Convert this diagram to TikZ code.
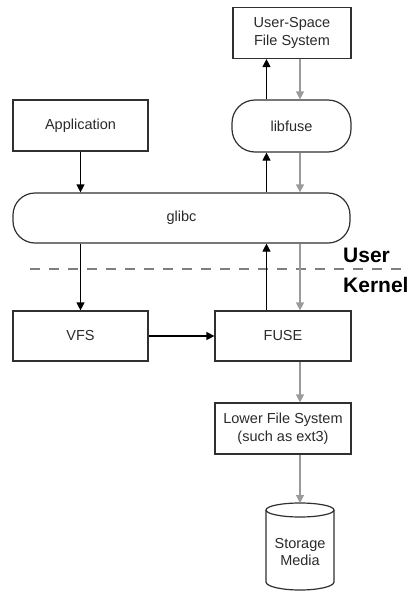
\documentclass[tikz,border=0pt]{standalone}
\usepackage{fontspec}
\setmainfont{Liberation Sans}
\usetikzlibrary{arrows.meta}
\definecolor{edge}{HTML}{303030}
\definecolor{txt}{HTML}{2A2A2A}
\definecolor{down}{HTML}{9A9A9A}
\definecolor{sep}{HTML}{7F7F7F}
\begin{document}
\begin{tikzpicture}[x=1pt,y=-1pt,
  box/.style={draw=edge,line width=1.2pt,rectangle,inner sep=0pt,
    text=txt,align=center,font=\fontsize{14.5}{17.5}\selectfont},
  pill/.style={box,rounded corners=23pt},
  upar/.style={draw=black,line width=1.2pt,-{Triangle[length=8pt,width=8pt]}},
  dnar/.style={draw=down,line width=1.2pt,-{Triangle[length=8pt,width=8pt]}},
  zone/.style={inner sep=0pt,anchor=base west,font=\fontsize{21}{24}\selectfont\bfseries}]
\useasboundingbox (0,0) rectangle (407,592);

% column positions of the upward and downward paths
\coordinate (up) at (266.5,0);
\coordinate (dn) at (300,0);

% boxes
\node[box,minimum width=118pt,minimum height=51pt] (usfs) at (292,33) {User-Space\\File System};
\node[pill,minimum width=119pt,minimum height=52pt] (libfuse) at (291.5,126) {libfuse};
\node[box,minimum width=135pt,minimum height=51pt] (app) at (80.5,125.5) {Application};
\node[pill,minimum width=337pt,minimum height=50pt,rounded corners=22pt] (glibc) at (181.5,218) {glibc};
\node[box,minimum width=135pt,minimum height=50pt] (vfs) at (80.5,336) {VFS};
\node[box,minimum width=136pt,minimum height=50pt] (fuse) at (283,336) {FUSE};
\node[box,minimum width=136pt,minimum height=51pt] (lowfs) at (283,428.5) {Lower File System\\(such as ext3)};

% storage cylinder
\coordinate (cyltop) at (300,503);
\draw[edge,line width=1.2pt] (266,510) arc[start angle=180,end angle=360,x radius=34,y radius=7]
  -- (334,582) arc[start angle=0,end angle=180,x radius=34,y radius=8] -- cycle;
\draw[edge,line width=1.2pt] (266,510) arc[start angle=180,end angle=0,x radius=34,y radius=7];
\node[box,draw=none] (media) at (300,552) {Storage\\Media};

% user / kernel boundary
\draw[sep,line width=2pt,dash pattern=on 10pt off 9pt] (30,269) -- (407,269);
\node[zone] (user) at (343,262.5) {User};
\node[zone] (kernel) at (343,292.5) {Kernel};

% calls going down through the stack
\draw[upar] (app.south) -- (glibc.north -| app.south);
\draw[upar] (glibc.south -| vfs.north) -- (vfs.north);
\draw[upar] (vfs.east) -- (fuse.west);

% requests handed up to the user-space daemon
\draw[upar] (fuse.north -| up) -- (glibc.south -| up);
\draw[upar] (glibc.north -| up) -- (libfuse.south -| up);
\draw[upar] (libfuse.north -| up) -- (usfs.south -| up);

% replies and storage accesses
\draw[dnar] (usfs.south -| dn) -- (libfuse.north -| dn);
\draw[dnar] (libfuse.south -| dn) -- (glibc.north -| dn);
\draw[dnar] (glibc.south -| dn) -- (fuse.north -| dn);
\draw[dnar] (fuse.south -| dn) -- (lowfs.north -| dn);
\draw[dnar] (lowfs.south -| dn) -- (cyltop);
\end{tikzpicture}
\end{document}
